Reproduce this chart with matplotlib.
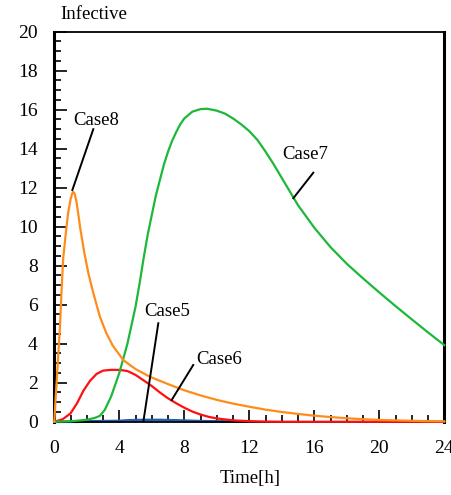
import numpy as np
import matplotlib
matplotlib.use("Agg")
import matplotlib.pyplot as plt
from matplotlib.ticker import MultipleLocator

plt.rcParams['font.family'] = ['Liberation Serif', 'DejaVu Serif']

# Infective count vs time
t5 = [0, 1.5, 2, 3, 4, 4.5, 5.5, 6.5, 7.5, 9, 10, 11.8]
case5 = [0, 0, 0.02, 0.03, 0.04, 0.07, 0.09, 0.09, 0.07, 0.03, 0.02, 0.01]

t6 = [0, 0.5, 1, 1.4, 1.8, 2.2, 2.6, 3.0, 3.5, 4.0, 4.5, 5.0, 5.5, 6, 6.5, 7,
      7.5, 8, 8.5, 9, 9.5, 10, 11, 12, 13, 14, 18, 24]
case6 = [0, 0.12, 0.43, 0.95, 1.6, 2.1, 2.45, 2.62, 2.66, 2.66, 2.6, 2.4, 2.12,
         1.83, 1.5, 1.2, 0.95, 0.72, 0.52, 0.37, 0.25, 0.17, 0.07, 0.03, 0.01,
         0, 0, 0]

t7 = [0, 1, 2, 2.5, 2.8, 3.1, 3.5, 4, 4.5, 5, 5.25, 5.5, 5.75, 6, 6.25, 6.5,
      6.75, 7, 7.25, 7.5, 7.75, 8, 8.5, 9, 9.4, 10, 10.5, 11, 11.5, 12, 12.5,
      13, 13.5, 14, 14.5, 15, 16, 17, 18, 19, 20, 21, 22, 23, 24]
case7 = [0, 0.02, 0.1, 0.2, 0.3, 0.6, 1.3, 2.5, 4.0, 5.9, 7.1, 8.4, 9.6, 10.6,
         11.6, 12.4, 13.2, 13.85, 14.4, 14.85, 15.25, 15.55, 15.9, 16.03,
         16.05, 15.95, 15.8, 15.55, 15.25, 14.9, 14.45, 13.85, 13.2, 12.5,
         11.8, 11.1, 9.95, 8.95, 8.1, 7.35, 6.63, 5.93, 5.25, 4.58, 3.93]

t8 = [0, 0.08, 0.15, 0.25, 0.35, 0.45, 0.55, 0.7, 0.85, 1.0, 1.1, 1.17, 1.25,
      1.35, 1.45, 1.6, 1.85, 2.1, 2.4, 2.8, 3.2, 3.6, 4.25, 5, 5.9, 7, 7.94,
      9, 10, 11, 12, 13, 14, 15, 16, 17, 18, 19, 20, 21, 22, 23, 24]
case8 = [0, 1.2, 2.1, 3.5, 4.9, 6.8, 8.4, 9.6, 10.7, 11.4, 11.7, 11.78, 11.7,
         11.35, 10.8, 9.9, 8.65, 7.6, 6.6, 5.4, 4.55, 3.9, 3.16, 2.7, 2.3, 1.93,
         1.63, 1.35, 1.12, 0.93, 0.77, 0.62, 0.5, 0.4, 0.31, 0.24, 0.18, 0.13,
         0.09, 0.07, 0.05, 0.03, 0.02]

fig = plt.figure(figsize=(4.51, 4.95), dpi=100)
ax = fig.add_axes([0.1204, 0.148, 0.8647, 0.788])

lw = 1.6
ax.plot(t5, case5, color='#1f5fad', lw=1.9, clip_on=False, zorder=2)
ax.plot(t6, case6, color='#ff1010', lw=lw, clip_on=False, zorder=3)
ax.plot(t7, case7, color='#1db83a', lw=lw, clip_on=False, zorder=4)
ax.plot(t8, case8, color='#ff8c1a', lw=lw, clip_on=False, zorder=5)

ax.set_xlim(0, 24)
ax.set_ylim(0, 20)
ax.xaxis.set_major_locator(MultipleLocator(4))
ax.xaxis.set_minor_locator(MultipleLocator(1))
ax.yaxis.set_major_locator(MultipleLocator(2))
ax.yaxis.set_minor_locator(MultipleLocator(0.5))
ax.tick_params(which='both', direction='in', top=False, right=False,
               labelsize=14, width=1.2)
ax.tick_params(which='major', length=9)
ax.tick_params(which='minor', length=5)
ax.tick_params(axis='y', pad=12)
ax.tick_params(axis='x', pad=13)

for side in ['left', 'right']:
    ax.spines[side].set_linewidth(2.2)
for side in ['top', 'bottom']:
    ax.spines[side].set_linewidth(1.3)

fig.text(0.133, 0.970, 'Infective', fontsize=13.5, ha='left', va='center')
fig.text(0.555, 0.034, 'Time[h]', fontsize=13.5, ha='center', va='center')

# labels with pointer lines
notes = [
    ('Case8', (2.57, 15.47), (2.4, 15.0), (1.11, 11.88)),
    ('Case7', (15.43, 13.68), (15.94, 12.77), (14.71, 11.46)),
    ('Case5', (6.93, 5.63), (6.4, 5.05), (5.48, 0.0)),
    ('Case6', (10.13, 3.21), (8.55, 2.91), (7.22, 1.11)),
]
for name, txt, p0, p1 in notes:
    ax.text(txt[0], txt[1], name, fontsize=13.5, ha='center', va='center',
            zorder=6)
    ax.plot([p0[0], p1[0]], [p0[1], p1[1]], color='black', lw=1.4, zorder=6)

fig.savefig('out.png', dpi=100)
